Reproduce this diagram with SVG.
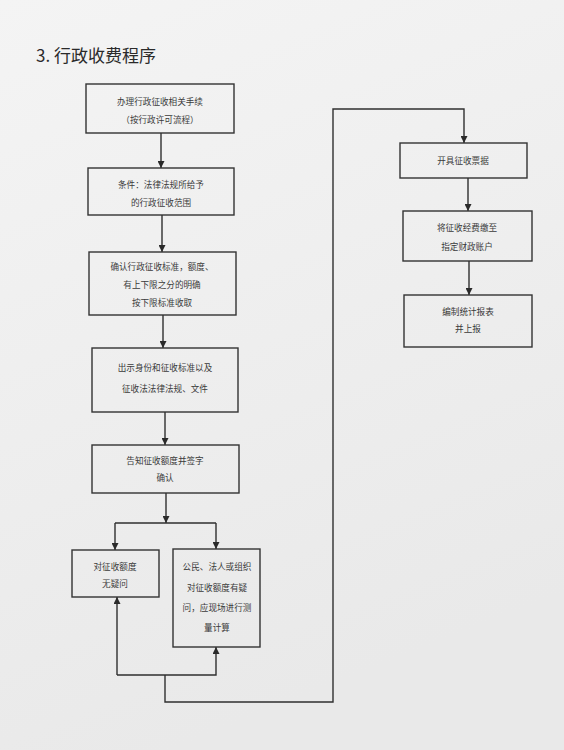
<svg xmlns="http://www.w3.org/2000/svg" width="564" height="750" viewBox="0 0 564 750">
<defs>
<linearGradient id="bg" x1="0" y1="0" x2="0.3" y2="1">
<stop offset="0" stop-color="#f4f4f4"/>
<stop offset="1" stop-color="#e9e9e9"/>
</linearGradient>
<marker id="ah" viewBox="0 0 10 10" refX="10" refY="5" markerWidth="7" markerHeight="7" markerUnits="userSpaceOnUse" orient="auto">
<path d="M0,0 L10,5 L0,10 z" fill="#2a2a2a"/>
</marker>
<style>
.box{fill:none;stroke:#333;stroke-width:1.4}
.t{font-family:"Noto Sans CJK SC","Noto Sans",sans-serif;font-size:8.6px;fill:#3a3a3a;text-anchor:middle}
.c{fill:none;stroke:#2f2f2f;stroke-width:1.4}
</style>
</defs>
<rect width="564" height="750" fill="url(#bg)"/>
<text x="36" y="62" font-family="'Noto Sans CJK SC','Noto Sans',sans-serif" font-size="17" fill="#2a2a2a">3. 行政收费程序</text>

<g id="connectors">
<path class="c" d="M161,133 V168" marker-end="url(#ah)"/>
<path class="c" d="M162,215 V252" marker-end="url(#ah)"/>
<path class="c" d="M163,315 V348" marker-end="url(#ah)"/>
<path class="c" d="M165,412 V445" marker-end="url(#ah)"/>
<path class="c" d="M166,493 V523" marker-end="url(#ah)"/>
<path class="c" d="M115,523 H216"/>
<path class="c" d="M115,523 V550" marker-end="url(#ah)"/>
<path class="c" d="M216,523 V549" marker-end="url(#ah)"/>
<path class="c" d="M117,675 V597" marker-end="url(#ah)"/>
<path class="c" d="M117,675 H216 V647" marker-end="url(#ah)"/>
<path class="c" d="M165,675 V702 H333 V109 H464 V143" marker-end="url(#ah)"/>
<path class="c" d="M468,178 V211" marker-end="url(#ah)"/>
<path class="c" d="M469,261 V295" marker-end="url(#ah)"/>
</g>

<g id="n1"><rect class="box" x="86" y="84" width="148" height="49"/>
<text class="t" x="160" y="105">办理行政征收相关手续</text>
<text class="t" x="160" y="123">（按行政许可流程）</text></g>

<g id="n2"><rect class="box" x="88" y="168" width="146" height="47"/>
<text class="t" x="161" y="188">条件：法律法规所给予</text>
<text class="t" x="161" y="206">的行政征收范围</text></g>

<g id="n3"><rect class="box" x="89" y="252" width="147" height="63"/>
<text class="t" x="162" y="270">确认行政征收标准，额度、</text>
<text class="t" x="162" y="288">有上下限之分的明确</text>
<text class="t" x="162" y="306">按下限标准收取</text></g>

<g id="n4"><rect class="box" x="92" y="348" width="146" height="64"/>
<text class="t" x="165" y="371">出示身份和征收标准以及</text>
<text class="t" x="165" y="392">征收法法律法规、文件</text></g>

<g id="n5"><rect class="box" x="92" y="445" width="147" height="48"/>
<text class="t" x="165" y="464">告知征收额度并签字</text>
<text class="t" x="165" y="481">确认</text></g>

<g id="n6"><rect class="box" x="72" y="550" width="87" height="47"/>
<text class="t" x="115" y="570">对征收额度</text>
<text class="t" x="115" y="587">无疑问</text></g>

<g id="n7"><rect class="box" x="173" y="549" width="87" height="98"/>
<text class="t" x="217" y="570">公民、法人或组织</text>
<text class="t" x="217" y="591">对征收额度有疑</text>
<text class="t" x="217" y="611">问，应现场进行测</text>
<text class="t" x="217" y="631">量计算</text></g>

<g id="n8"><rect class="box" x="400" y="143" width="127" height="35"/>
<text class="t" x="463" y="164">开具征收票据</text></g>

<g id="n9"><rect class="box" x="403" y="211" width="129" height="50"/>
<text class="t" x="467" y="231">将征收经费缴至</text>
<text class="t" x="467" y="250">指定财政账户</text></g>

<g id="n10"><rect class="box" x="404" y="295" width="128" height="52"/>
<text class="t" x="468" y="315">编制统计报表</text>
<text class="t" x="468" y="332">并上报</text></g>
</svg>
